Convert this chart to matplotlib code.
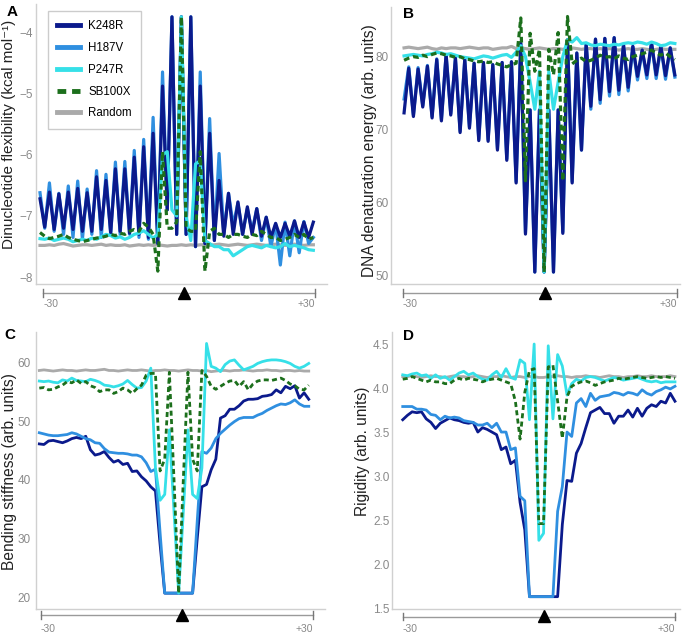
import numpy as np
import matplotlib
matplotlib.use("Agg")
import matplotlib.pyplot as plt
from matplotlib.lines import Line2D

plt.rcParams['font.family'] = ['Liberation Sans', 'DejaVu Sans']

# positions relative to the TA target site
positions = list(range(-30, 29))
series_names = ["K248R", "H187V", "P247R", "SB100X", "Random"]

# ---------------- Panel A: dinucleotide flexibility ----------------
A_K248R = [-6.72, -7.18, -6.61, -7.22, -6.64, -7.20, -6.61, -7.22, -6.55, -7.25,
           -6.62, -7.25, -6.36, -7.22, -6.42, -7.27, -6.23, -7.25, -6.23, -7.28,
           -6.04, -7.30, -5.87, -7.35, -5.65, -7.45, -4.88, -6.90, -3.75, -7.30,
           -3.75, -7.30, -3.75, -7.50, -4.88, -7.45, -5.65, -7.40, -6.42, -7.33,
           -6.63, -7.30, -6.77, -7.30, -6.85, -7.30, -6.88, -7.33, -7.02, -7.35,
           -7.12, -7.35, -7.12, -7.33, -7.08, -7.35, -7.10, -7.35, -7.10]
A_H187V = [-6.62, -7.20, -6.46, -7.25, -6.63, -7.30, -6.51, -7.35, -6.43, -7.38,
           -6.56, -7.30, -6.26, -7.35, -6.32, -7.30, -6.12, -7.30, -6.11, -7.30,
           -5.93, -7.35, -5.75, -7.38, -5.39, -7.45, -4.65, -6.90, -3.75, -7.30,
           -3.75, -7.30, -3.75, -7.50, -4.65, -7.45, -5.41, -7.40, -5.98, -7.30,
           -6.63, -7.15, -6.79, -7.30, -6.88, -7.25, -6.88, -7.40, -7.02, -7.50,
           -7.13, -7.80, -7.10, -7.65, -7.08, -7.60, -7.09, -7.45, -7.35]
A_P247R = [-7.37, -7.38, -7.36, -7.40, -7.38, -7.36, -7.38, -7.42, -7.40, -7.38,
           -7.40, -7.36, -7.38, -7.34, -7.30, -7.32, -7.36, -7.34, -7.38, -7.35,
           -7.30, -7.28, -7.24, -7.30, -7.36, -7.30, -6.00, -5.95, -6.90, -7.00,
           -3.75, -7.00, -7.40, -6.15, -6.10, -7.40, -7.45, -7.50, -7.50, -7.55,
           -7.55, -7.65, -7.60, -7.55, -7.50, -7.48, -7.50, -7.52, -7.48, -7.50,
           -7.52, -7.50, -7.45, -7.50, -7.48, -7.50, -7.52, -7.55, -7.56]
A_SB100X = [-7.27, -7.33, -7.37, -7.35, -7.33, -7.30, -7.35, -7.38, -7.40, -7.42,
            -7.40, -7.38, -7.36, -7.35, -7.33, -7.30, -7.32, -7.28, -7.30, -7.25,
            -7.22, -7.25, -7.12, -7.18, -7.30, -7.90, -5.95, -7.20, -7.20, -7.10,
            -3.75, -7.20, -7.25, -7.25, -5.95, -7.90, -7.25, -7.20, -7.30, -7.30,
            -7.35, -7.30, -7.30, -7.33, -7.35, -7.30, -7.32, -7.25, -7.30, -7.35,
            -7.35, -7.40, -7.38, -7.35, -7.30, -7.35, -7.30, -7.38, -7.35]
A_Random = [-7.48, -7.48, -7.47, -7.48, -7.46, -7.45, -7.47, -7.49, -7.48, -7.47,
            -7.47, -7.48, -7.47, -7.46, -7.48, -7.47, -7.48, -7.48, -7.47, -7.49,
            -7.48, -7.47, -7.48, -7.47, -7.48, -7.47, -7.48, -7.49, -7.48, -7.48,
            -7.47, -7.48, -7.47, -7.48, -7.47, -7.47, -7.48, -7.47, -7.46, -7.47,
            -7.48, -7.47, -7.46, -7.47, -7.48, -7.47, -7.46, -7.47, -7.48, -7.47,
            -7.46, -7.47, -7.48, -7.47, -7.46, -7.47, -7.48, -7.47, -7.47]

# ---------------- Panel B: DNA denaturation energy ----------------
B_K248R = [72.3, 78.4, 71.8, 78.3, 73.1, 78.7, 71.6, 79.6, 71.2, 80.3,
           72.0, 79.8, 69.6, 79.6, 70.2, 79.1, 68.5, 79.2, 68.4, 78.9,
           67.2, 79.2, 65.8, 79.3, 62.7, 81.8, 55.7, 72.7, 50.5, 72.7,
           50.5, 72.7, 50.5, 72.7, 55.8, 82.3, 62.7, 80.5, 67.2, 81.8,
           73.2, 82.4, 74.1, 82.5, 75.2, 82.6, 75.4, 81.6, 75.8, 81.4,
           77.3, 80.9, 77.5, 81.9, 77.5, 81.4, 77.4, 81.2, 77.5]
B_H187V = [74.2, 78.6, 72.0, 78.5, 73.3, 78.8, 71.8, 79.7, 71.4, 80.3,
           72.2, 79.8, 69.8, 79.6, 70.4, 79.1, 68.7, 79.2, 68.6, 78.9,
           67.4, 79.2, 66.0, 79.3, 62.9, 81.8, 55.9, 72.7, 50.5, 72.7,
           50.5, 72.7, 50.5, 72.7, 56.0, 82.3, 62.9, 80.5, 67.2, 81.8,
           72.8, 82.4, 73.6, 82.5, 74.6, 82.6, 74.8, 81.6, 75.3, 81.4,
           76.8, 80.9, 77.0, 81.9, 77.0, 81.4, 76.9, 81.2, 77.2]
B_P247R = [80.1, 80.2, 80.3, 80.2, 80.1, 80.3, 80.4, 80.6, 80.5, 80.3,
           80.4, 80.2, 80.0, 79.9, 79.8, 79.7, 79.9, 80.1, 80.0, 79.8,
           80.0, 80.2, 80.3, 79.9, 80.6, 81.5, 80.0, 76.5, 72.8, 78.0,
           50.5, 78.0, 72.8, 76.5, 80.0, 82.3, 82.0, 82.6, 81.8, 81.9,
           81.6, 81.5, 81.7, 81.6, 81.5, 81.7, 81.6, 81.8, 81.9, 81.8,
           82.0, 81.9, 81.7, 82.0, 81.8, 81.5, 81.6, 81.9, 81.8]
B_SB100X = [79.5, 79.8, 80.0, 79.9, 80.2, 80.0, 80.3, 80.5, 80.4, 80.2,
            80.1, 79.9, 80.0, 79.7, 79.6, 79.4, 79.3, 79.4, 79.2, 79.3,
            79.0, 78.8, 78.6, 78.9, 79.1, 85.3, 63.0, 83.2, 78.0, 81.0,
            50.5, 81.0, 77.5, 83.3, 63.0, 85.5, 79.0, 79.5, 79.8, 79.3,
            79.5, 79.8, 80.2, 79.9, 80.0, 79.7, 80.1, 79.8, 79.6, 80.0,
            80.2, 80.4, 80.6, 80.9, 80.5, 80.2, 80.5, 80.0, 79.6]
B_Random = [81.2, 81.3, 81.2, 81.1, 81.2, 81.3, 81.1, 81.0, 81.2, 81.1,
            81.2, 81.2, 81.1, 81.2, 81.3, 81.2, 81.1, 81.2, 81.2, 81.0,
            81.1, 81.2, 81.2, 81.4, 81.1, 81.2, 81.1, 81.0, 81.1, 81.2,
            81.1, 81.0, 81.1, 81.1, 81.0, 81.1, 81.2, 81.1, 81.0, 81.1,
            81.1, 81.0, 81.1, 81.0, 81.1, 81.0, 80.9, 81.0, 81.1, 81.0,
            81.0, 81.1, 81.0, 80.9, 81.0, 81.1, 81.0, 81.0, 81.0]

# ---------------- Panel C: bending stiffness ----------------
C_K248R = [46.1, 46.0, 46.6, 46.7, 46.5, 46.3, 46.6, 47.0, 47.2, 47.0,
           47.4, 45.1, 44.2, 44.4, 44.8, 43.8, 43.0, 43.3, 42.6, 42.8,
           41.4, 41.5, 40.5, 39.8, 38.8, 38.1, 29.0, 20.7, 20.7, 20.7,
           20.7, 20.7, 20.7, 20.7, 30.0, 38.8, 39.2, 41.7, 43.5, 50.5,
           50.9, 52.0, 52.0, 52.6, 53.4, 53.7, 53.7, 53.8, 54.2, 54.3,
           54.5, 55.3, 54.8, 55.9, 55.5, 56.0, 53.9, 54.8, 53.7]
C_H187V = [48.0, 47.8, 47.6, 47.5, 47.5, 47.6, 47.7, 48.0, 47.8, 47.4,
           47.0, 46.8, 46.3, 46.2, 45.3, 44.7, 44.6, 44.5, 44.5, 44.4,
           44.2, 44.2, 43.9, 42.9, 41.4, 41.8, 31.0, 20.7, 20.7, 20.7,
           20.7, 20.7, 20.7, 20.7, 33.0, 44.8, 44.5, 45.4, 47.0, 47.9,
           48.6, 49.3, 49.9, 50.4, 50.6, 50.6, 50.6, 51.0, 51.3, 51.8,
           52.2, 52.6, 52.9, 52.8, 53.1, 53.6, 52.9, 52.5, 52.5]
C_P247R = [56.8, 56.7, 56.8, 56.6, 56.5, 57.0, 56.8, 57.3, 56.9, 56.8,
           56.7, 57.1, 56.9, 56.6, 56.1, 56.0, 55.8, 56.0, 56.3, 56.9,
           56.2, 55.6, 55.7, 56.8, 59.0, 42.0, 36.5, 37.5, 48.5, 34.5,
           20.7, 34.5, 48.5, 37.5, 36.8, 42.0, 63.2, 59.3, 59.0, 58.4,
           59.6, 60.2, 60.4, 59.5, 58.7, 59.0, 59.3, 59.8, 60.1, 60.3,
           60.4, 60.4, 60.3, 60.1, 59.8, 59.3, 59.0, 59.3, 59.8]
C_SB100X = [55.6, 55.7, 55.3, 55.4, 55.8, 56.1, 56.7, 56.5, 57.0, 56.4,
            56.7, 56.0, 55.7, 55.0, 55.3, 55.3, 54.7, 55.0, 55.6, 55.3,
            54.7, 55.5, 56.1, 57.8, 58.1, 58.1, 41.5, 43.5, 58.3, 40.0,
            20.7, 40.0, 58.3, 43.5, 41.5, 58.6, 57.6, 55.9, 55.4, 55.9,
            56.4, 56.8, 56.9, 55.9, 56.7, 55.3, 56.3, 56.8, 57.0, 57.0,
            56.9, 57.1, 57.3, 56.9, 56.3, 56.0, 55.4, 55.3, 56.1]
C_Random = [58.6, 58.7, 58.6, 58.5, 58.6, 58.7, 58.6, 58.6, 58.5, 58.6,
            58.7, 58.6, 58.6, 58.7, 58.8, 58.6, 58.6, 58.5, 58.6, 58.7,
            58.6, 58.6, 58.7, 58.6, 58.5, 58.6, 58.6, 58.7, 58.6, 58.6,
            58.5, 58.6, 58.7, 58.6, 58.6, 58.5, 58.6, 58.4, 58.5, 58.6,
            58.6, 58.5, 58.6, 58.6, 58.7, 58.6, 58.5, 58.6, 58.6, 58.7,
            58.6, 58.6, 58.5, 58.6, 58.6, 58.5, 58.6, 58.5, 58.5]

# ---------------- Panel D: rigidity ----------------
D_K248R = [3.64, 3.69, 3.73, 3.72, 3.73, 3.65, 3.61, 3.54, 3.60, 3.63,
           3.66, 3.64, 3.63, 3.61, 3.60, 3.61, 3.50, 3.55, 3.53, 3.50,
           3.47, 3.30, 3.33, 3.14, 3.18, 2.70, 2.39, 1.63, 1.63, 1.63,
           1.63, 1.63, 1.63, 1.63, 2.45, 2.95, 2.94, 3.26, 3.37, 3.55,
           3.72, 3.75, 3.78, 3.71, 3.71, 3.60, 3.68, 3.68, 3.75, 3.67,
           3.77, 3.68, 3.77, 3.81, 3.79, 3.85, 3.83, 3.94, 3.85]
D_H187V = [3.79, 3.79, 3.79, 3.76, 3.76, 3.75, 3.70, 3.69, 3.64, 3.68,
           3.66, 3.67, 3.66, 3.63, 3.62, 3.61, 3.58, 3.58, 3.60, 3.55,
           3.60, 3.50, 3.50, 3.30, 3.32, 2.77, 2.72, 1.63, 1.63, 1.63,
           1.63, 1.63, 1.63, 2.60, 2.88, 3.50, 3.45, 3.83, 3.88, 3.79,
           3.94, 3.86, 3.90, 3.91, 3.92, 3.95, 3.94, 3.92, 3.95, 3.94,
           3.92, 3.98, 3.94, 3.92, 3.96, 3.98, 4.01, 3.99, 4.02]
D_P247R = [4.15, 4.14, 4.16, 4.17, 4.14, 4.15, 4.11, 4.15, 4.11, 4.13,
           4.09, 4.13, 4.17, 4.19, 4.15, 4.17, 4.13, 4.10, 4.09, 4.15,
           4.19, 4.12, 4.22, 4.12, 4.10, 4.32, 4.28, 3.64, 4.50, 2.27,
           2.35, 4.48, 3.65, 4.38, 4.25, 3.92, 4.05, 4.10, 4.08, 4.12,
           4.13, 4.12, 4.10, 4.08, 4.10, 4.12, 4.11, 4.09, 4.10, 4.11,
           4.12, 4.10, 4.08, 4.07, 4.08, 4.06, 4.07, 4.07, 4.07]
D_SB100X = [4.10, 4.11, 4.13, 4.11, 4.09, 4.07, 4.09, 4.07, 4.07, 4.05,
            4.05, 4.09, 4.11, 4.09, 4.11, 4.10, 4.09, 4.07, 4.09, 4.10,
            4.11, 4.09, 4.07, 4.05, 3.85, 3.42, 3.95, 4.20, 4.22, 2.46,
            2.46, 4.24, 4.26, 3.85, 3.43, 3.90, 4.02, 4.05, 4.07, 4.08,
            4.06, 4.03, 4.05, 4.07, 4.08, 4.09, 4.11, 4.10, 4.11, 4.12,
            4.13, 4.12, 4.11, 4.12, 4.13, 4.12, 4.13, 4.12, 4.11]
D_Random = [4.13, 4.13, 4.14, 4.13, 4.12, 4.13, 4.14, 4.13, 4.13, 4.12,
            4.13, 4.14, 4.13, 4.13, 4.12, 4.13, 4.14, 4.13, 4.12, 4.13,
            4.13, 4.14, 4.13, 4.12, 4.13, 4.13, 4.12, 4.13, 4.13, 4.12,
            4.12, 4.13, 4.13, 4.14, 4.13, 4.13, 4.12, 4.13, 4.13, 4.14,
            4.13, 4.13, 4.12, 4.13, 4.14, 4.13, 4.13, 4.12, 4.13, 4.13,
            4.14, 4.13, 4.13, 4.14, 4.13, 4.13, 4.13, 4.14, 4.13]

colors = {"K248R": "#0b1a8c", "H187V": "#2f8fe0", "P247R": "#36e0e8",
          "SB100X": "#1c6f1c", "Random": "#aaaaaa"}

W, H = 685, 635
fig = plt.figure(figsize=(W / 100, H / 100), dpi=100)

def fx(x):
    return x / W

def fy(y):
    return 1 - y / H

def make_ax(left, top, right, bottom):
    return fig.add_axes([fx(left), fy(bottom), (right - left) / W, (bottom - top) / H])

panels = [
    dict(rect=(36, 4, 327, 284), xlim=(-30.85, 30.9), ylim=(-8.11, -3.54),
         yticks=[-8, -7, -6, -5, -4], fmt=None, lw=2.3, pad=2.0,
         data={"K248R": A_K248R, "H187V": A_H187V, "P247R": A_P247R,
               "SB100X": A_SB100X, "Random": A_Random},
         order=["Random", "H187V", "K248R", "P247R", "SB100X"],
         ylabel='Dinucleotide flexibility (kcal mol\u207b\u00b9)', ylab_xy=(9.5, 134),
         ylab_size=11.0,
         letter="A", letter_xy=(12, 12),
         bar=(43.3, 315.3, 293, 184, 304)),
    dict(rect=(391, 7, 680, 284), xlim=(-32.8, 29.1), ylim=(48.86, 86.8),
         yticks=[50, 60, 70, 80], fmt=None, lw=2.3, pad=1.5,
         data={"K248R": B_K248R, "H187V": B_H187V, "P247R": B_P247R,
               "SB100X": B_SB100X, "Random": B_Random},
         order=["Random", "H187V", "K248R", "P247R", "SB100X"],
         ylabel='DNA denaturation energy (arb. units)', ylab_xy=(369.5, 151),
         ylab_size=11.2,
         letter="B", letter_xy=(408, 14),
         bar=(403, 677, 293, 545, 304)),
    dict(rect=(36, 331.7, 325, 609), xlim=(-30.71, 31.5), ylim=(18.0, 65.2),
         yticks=[20, 30, 40, 50, 60], fmt=None, lw=2.0, pad=4,
         data={"K248R": C_K248R, "H187V": C_H187V, "P247R": C_P247R,
               "SB100X": C_SB100X, "Random": C_Random},
         order=["Random", "K248R", "H187V", "P247R", "SB100X"],
         ylabel='Bending stiffness (arb. units)', ylab_xy=(10, 472),
         ylab_size=11.2,
         letter="C", letter_xy=(10, 335),
         bar=(40.7, 313.3, 615, 181.7, 629)),
    dict(rect=(391.7, 331.7, 680, 609), xlim=(-32.35, 29.07), ylim=(1.49, 4.64),
         yticks=[1.5, 2.0, 2.5, 3.0, 3.5, 4.0, 4.5], fmt='%.1f', lw=2.0, pad=1.5,
         data={"K248R": D_K248R, "H187V": D_H187V, "P247R": D_P247R,
               "SB100X": D_SB100X, "Random": D_Random},
         order=["Random", "K248R", "H187V", "P247R", "SB100X"],
         ylabel='Rigidity (arb. units)', ylab_xy=(363, 451),
         ylab_size=11.2,
         letter="D", letter_xy=(408, 336),
         bar=(403, 675, 616.7, 544, 629)),
]

legend_handles = None
for i, p in enumerate(panels):
    ax = make_ax(*p["rect"])
    handles = {}
    for name in p["order"]:
        vals = p["data"][name]
        if name == "SB100X":
            ln, = ax.plot(positions, vals, color=colors[name], lw=p["lw"],
                          dashes=(1.8, 1.2), zorder=5)
        else:
            ln, = ax.plot(positions, vals, color=colors[name], lw=p["lw"])
        handles[name] = ln
    ax.set_xlim(*p["xlim"])
    ax.set_ylim(*p["ylim"])
    ax.set_xticks([])
    ax.set_yticks(p["yticks"])
    if p["fmt"]:
        ax.yaxis.set_major_formatter(matplotlib.ticker.FormatStrFormatter(p["fmt"]))
    ax.tick_params(axis='y', length=0, pad=p["pad"], labelsize=8.5, labelcolor='#8a8a8a')
    for s in ("top", "right"):
        ax.spines[s].set_visible(False)
    for s in ("left", "bottom"):
        ax.spines[s].set_color('#d0d0d0')
        ax.spines[s].set_linewidth(1.0)
    ax.set_facecolor('white')
    fig.text(fx(p["ylab_xy"][0]), fy(p["ylab_xy"][1]), p["ylabel"], rotation=90,
             ha='center', va='center', fontsize=p["ylab_size"], color='#222222')
    fig.text(fx(p["letter_xy"][0]), fy(p["letter_xy"][1]), p["letter"],
             ha='center', va='center', fontsize=11, fontweight='bold')
    x0, x1, yb, xt, ylab = p["bar"]
    fig.add_artist(Line2D([fx(x0), fx(x1)], [fy(yb), fy(yb)], color='#9a9a9a', lw=1))
    for xe in (x0, x1):
        fig.add_artist(Line2D([fx(xe), fx(xe)], [fy(yb - 3.7), fy(yb + 3.7)],
                              color='#777777', lw=1))
    fig.add_artist(Line2D([fx(xt)], [fy(yb - 0.5)], marker='^', markersize=9,
                          color='black', linestyle='none'))
    fig.text(fx(x0), fy(ylab), '-30', ha='left', va='center', fontsize=7.5, color='#888888')
    fig.text(fx(x1), fy(ylab), '+30', ha='right', va='center', fontsize=7.5, color='#888888')
    if i == 0:
        legend_handles = handles

leg = fig.legend([legend_handles[n] for n in series_names], series_names,
                 loc='upper left', bbox_to_anchor=(fx(48), fy(11)),
                 bbox_transform=fig.transFigure, borderaxespad=0,
                 fontsize=8.3, handlelength=2.0, handletextpad=0.7,
                 labelspacing=0.85, borderpad=0.8, fancybox=False,
                 edgecolor='#cccccc', framealpha=1)
for ln in leg.get_lines():
    ln.set_linewidth(3.5)

fig.savefig("out.png", dpi=100)
